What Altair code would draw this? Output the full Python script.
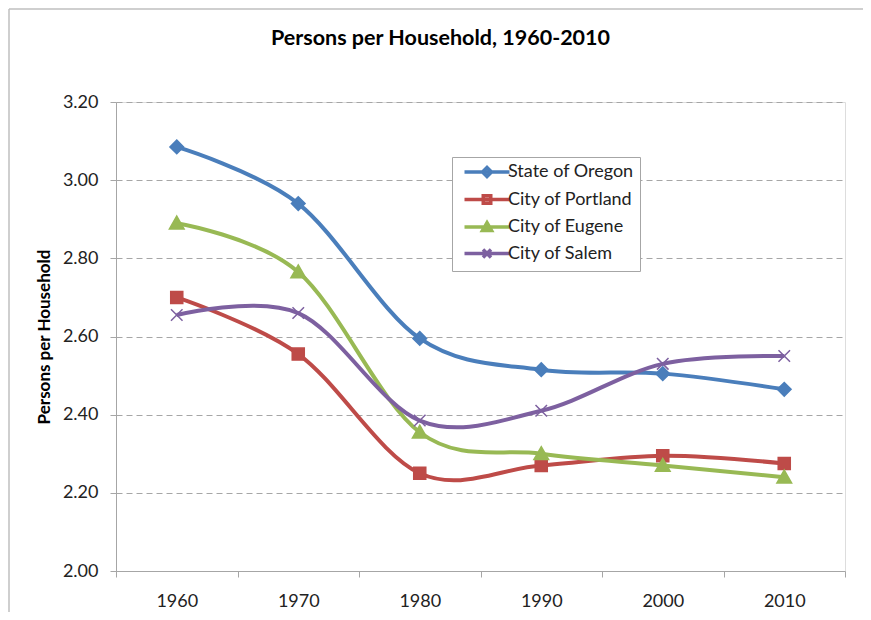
import altair as alt
import pandas as pd

years = ["1960", "1970", "1980", "1990", "2000", "2010"]
series = ["State of Oregon", "City of Portland", "City of Eugene", "City of Salem"]
oregon = [3.085, 2.94, 2.595, 2.515, 2.505, 2.465]
portland = [2.70, 2.555, 2.25, 2.27, 2.295, 2.275]
eugene = [2.89, 2.765, 2.355, 2.30, 2.27, 2.24]
salem = [2.655, 2.66, 2.385, 2.41, 2.53, 2.55]
colors = ["#4A7EBB", "#BE4B48", "#98B954", "#7D60A0"]
y_ticks = [2.0, 2.2, 2.4, 2.6, 2.8, 3.0, 3.2]

rows = []
for name, vals in zip(series, [oregon, portland, eugene, salem]):
    for yr, v in zip(years, vals):
        rows.append({"Year": yr, "Series": name, "Legend": name, "Value": v})
df = pd.DataFrame(rows)

FONT = "Lato"
W, H = 729, 469
PAD_L, PAD_T, PAD_R, PAD_B = 108, 94, 18, 41

marker_paths = [
    "M0,-1.3L1.3,0L0,1.3L-1.3,0Z",
    "M-1.15,-1.15H1.15V1.15H-1.15Z",
    "M0,-1.35L1.4,1.1H-1.4Z",
    "M-1.1,-1.1L1.1,1.1M-1.1,1.1L1.1,-1.1",
]
legend_paths = [
    "M-1,0L17,0M8,-1.8L9.8,0L8,1.8L6.2,0Z",
    "M-1,0L17,0M6.5,-1.5H9.5V1.5H6.5Z",
    "M-1,0L17,0M8,-1.7L9.8,1.4H6.2Z",
    "M-1,0L17,0M6.4,-1.6L9.6,1.6M6.4,1.6L9.6,-1.6",
]

x_enc = alt.X(
    "Year:O",
    scale=alt.Scale(type="band", domain=years, paddingInner=0, paddingOuter=0),
    axis=alt.Axis(
        title=None, labelAngle=0, tickBand="extent", grid=False,
        domainColor="#A6A6A6", tickColor="#A6A6A6", tickSize=6,
        labelFont=FONT, labelFontSize=18, labelColor="#222222",
        labelPadding=15,
    ),
)
y_enc = alt.Y(
    "Value:Q",
    scale=alt.Scale(domain=[2.0, 3.2], nice=False, zero=False),
    axis=alt.Axis(
        title="Persons per Household", values=y_ticks, format=".2f",
        grid=True, gridDash=[6, 4], gridColor="#A6A6A6", gridWidth=1,
        domainColor="#A6A6A6", tickColor="#A6A6A6", tickSize=6,
        labelFont=FONT, labelFontSize=18, labelColor="#222222",
        labelPadding=12, titleFont=FONT, titleFontSize=17,
        titleFontWeight="bold", titleColor="#000000", titlePadding=9,
    ),
)
color_scale = alt.Scale(domain=series, range=colors)

one = pd.DataFrame({"k": [0]})
frame_left = alt.Chart(one).mark_rule(stroke="#BFBFBF", strokeWidth=1.5).encode(
    x=alt.value(-PAD_L + 1), y=alt.value(-PAD_T + 1), y2=alt.value(H + PAD_B),
)
frame_top = alt.Chart(one).mark_rule(stroke="#BFBFBF", strokeWidth=1.5).encode(
    y=alt.value(-PAD_T + 1), x=alt.value(-PAD_L + 1), x2=alt.value(W + PAD_R),
)

lines = alt.Chart(df).mark_line(
    interpolate="cardinal", tension=0, strokeWidth=4
).encode(
    x=x_enc, y=y_enc,
    color=alt.Color("Series:N", scale=color_scale, legend=None),
)

points = alt.Chart(df).mark_point(
    filled=True, size=110, strokeWidth=1.5, opacity=1
).encode(
    x=x_enc, y=y_enc,
    color=alt.Color("Series:N", scale=color_scale, legend=None),
    shape=alt.Shape("Series:N", scale=alt.Scale(domain=series, range=marker_paths), legend=None),
    stroke=alt.Stroke("Series:N", scale=color_scale, legend=None),
)

legend_kw = dict(
    title=None, orient="none", legendX=336, legendY=55,
    labelFont=FONT, labelFontSize=18, labelColor="#222222",
    symbolSize=25, symbolStrokeWidth=3.5, symbolOpacity=1, labelOffset=32,
    rowPadding=4.5, padding=6, strokeColor="#A6A6A6",
    fillColor="#FFFFFF", labelLimit=300,
)

legend_layer = alt.Chart(df).mark_point(filled=False, opacity=0).encode(
    x=x_enc, y=y_enc,
    color=alt.Color("Legend:N", scale=alt.Scale(domain=series, range=colors),
                    legend=alt.Legend(**legend_kw)),
    shape=alt.Shape("Legend:N", scale=alt.Scale(domain=series, range=legend_paths),
                    legend=alt.Legend(**legend_kw)),
)

chart = (
    alt.layer(frame_left, frame_top, lines, points, legend_layer)
    .resolve_scale(shape="independent", color="independent")
    .properties(
        width=W, height=H,
        title=alt.TitleParams(
            "Persons per Household, 1960-2010", font=FONT, fontSize=21.5,
            fontWeight="bold", color="#000000", offset=-41, anchor="middle",
            dx=-40, frame="group",
        ),
        autosize=alt.AutoSizeParams(type="none"),
        padding={"left": PAD_L, "top": PAD_T, "right": PAD_R, "bottom": PAD_B},
    )
    .configure_view(strokeWidth=0, stroke="transparent")
    .configure(background="white")
)

chart.save("out.html", embed_options={"renderer": "svg", "actions": False})
